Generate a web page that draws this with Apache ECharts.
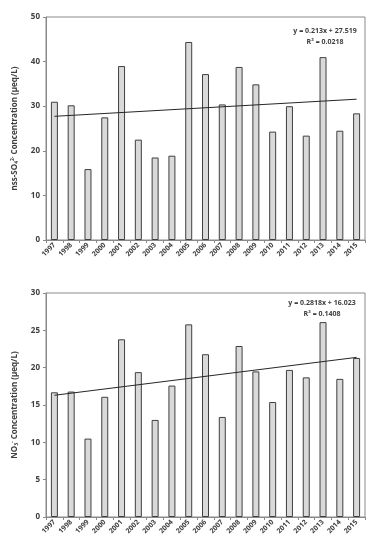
<!DOCTYPE html>
<html><head><meta charset="utf-8">
<script src="https://cdn.jsdelivr.net/npm/echarts@6/dist/echarts.min.js"></script>
<style>html,body{margin:0;padding:0;background:#fff}#c{width:375px;height:550px}</style>
</head><body><div id="c"></div>
<script>
var years = ['1997','1998','1999','2000','2001','2002','2003','2004','2005','2006','2007','2008','2009','2010','2011','2012','2013','2014','2015'];
var so4 = [31.0,30.2,15.9,27.5,39.0,22.5,18.5,18.9,44.4,37.2,30.4,38.8,34.9,24.3,30.0,23.4,41.0,24.5,28.4];
var no3 = [16.7,16.8,10.5,16.1,23.8,19.4,13.0,17.6,25.8,21.8,13.4,22.9,19.5,15.4,19.7,18.7,26.1,18.5,21.3];
var so4Trend = [[0,27.73],[18,31.57]];
var no3Trend = [[0,16.30],[18,21.38]];
var so4Ticks = {min:0,max:50,interval:10};
var no3Ticks = {min:0,max:30,interval:5};
var so4Eq = ['y = 0.213x + 27.519','R² = 0.0218'];
var no3Eq = ['y = 0.2818x + 16.023','R² = 0.1408'];

var FONT = 'Open Sans';
var TXT = '#404040';
var AX = '#8a8a8a';
function xAxis(gi){
  return {type:'category',gridIndex:gi,data:years,boundaryGap:true,
    axisLine:{show:true,lineStyle:{color:AX,width:1}},
    axisTick:{show:true,inside:false,length:3,alignWithLabel:false,lineStyle:{color:AX}},
    axisLabel:{rotate:45,interval:0,fontSize:7,fontFamily:FONT,fontWeight:'bold',color:TXT,margin:4},
    splitLine:{show:false}};
}
function yAxis(gi,t,name){
  return {type:'value',gridIndex:gi,min:t.min,max:t.max,interval:t.interval,
    name:name,nameLocation:'middle',nameGap:27,nameRotate:90,
    nameTextStyle:{fontSize:8,fontFamily:FONT,fontWeight:'bold',color:TXT,
      rich:{sub:{fontSize:5,fontFamily:FONT,fontWeight:'bold',color:TXT,verticalAlign:'bottom',padding:[4,0,0,0]},
            sup:{fontSize:5,fontFamily:FONT,fontWeight:'bold',color:TXT,verticalAlign:'top',padding:[0,0,4,0]}}},
    axisLine:{show:true,lineStyle:{color:AX,width:1}},
    axisTick:{show:true,length:3,lineStyle:{color:AX}},
    axisLabel:{fontSize:8,fontFamily:FONT,fontWeight:'bold',color:TXT,margin:6},
    splitLine:{show:false}};
}
function bars(xi,data){
  return {type:'bar',xAxisIndex:xi,yAxisIndex:xi,data:data,barWidth:7,
    itemStyle:{color:'#d9d9d9',borderColor:'#3f3f3f',borderWidth:1},silent:true};
}
function trend(xi,data){
  return {type:'line',xAxisIndex:xi,yAxisIndex:xi,data:data,symbol:'none',
    lineStyle:{color:'#262626',width:1},silent:true,z:5};
}
var chart = echarts.init(document.getElementById('c'),null,{renderer:'canvas'});
chart.setOption({
  backgroundColor:'#fff',
  animation:false,
  grid:[
    {left:46,right:10,top:17,height:223,show:true,borderColor:AX,borderWidth:1},
    {left:46,right:10,top:293,height:224,show:true,borderColor:AX,borderWidth:1}
  ],
  xAxis:[xAxis(0),xAxis(1)],
  yAxis:[yAxis(0,so4Ticks,'nss-SO{sub|4}{sup|2-} Concentration (μeq/L)'),
         yAxis(1,no3Ticks,'NO{sub|3}{sup|-} Concentration (μeq/L)')],
  series:[bars(0,so4),trend(0,so4Trend),bars(1,no3),trend(1,no3Trend)],
  graphic:[
    {type:'text',left:null,x:325,y:27,style:{text:so4Eq[0],textAlign:'center',fontSize:7,fontFamily:FONT,fontWeight:'bold',fill:TXT}},
    {type:'text',x:325,y:38,style:{text:so4Eq[1],textAlign:'center',fontSize:7,fontFamily:FONT,fontWeight:'bold',fill:TXT}},
    {type:'text',x:322,y:299,style:{text:no3Eq[0],textAlign:'center',fontSize:7,fontFamily:FONT,fontWeight:'bold',fill:TXT}},
    {type:'text',x:322,y:310,style:{text:no3Eq[1],textAlign:'center',fontSize:7,fontFamily:FONT,fontWeight:'bold',fill:TXT}}
  ]
});
</script></body></html>
